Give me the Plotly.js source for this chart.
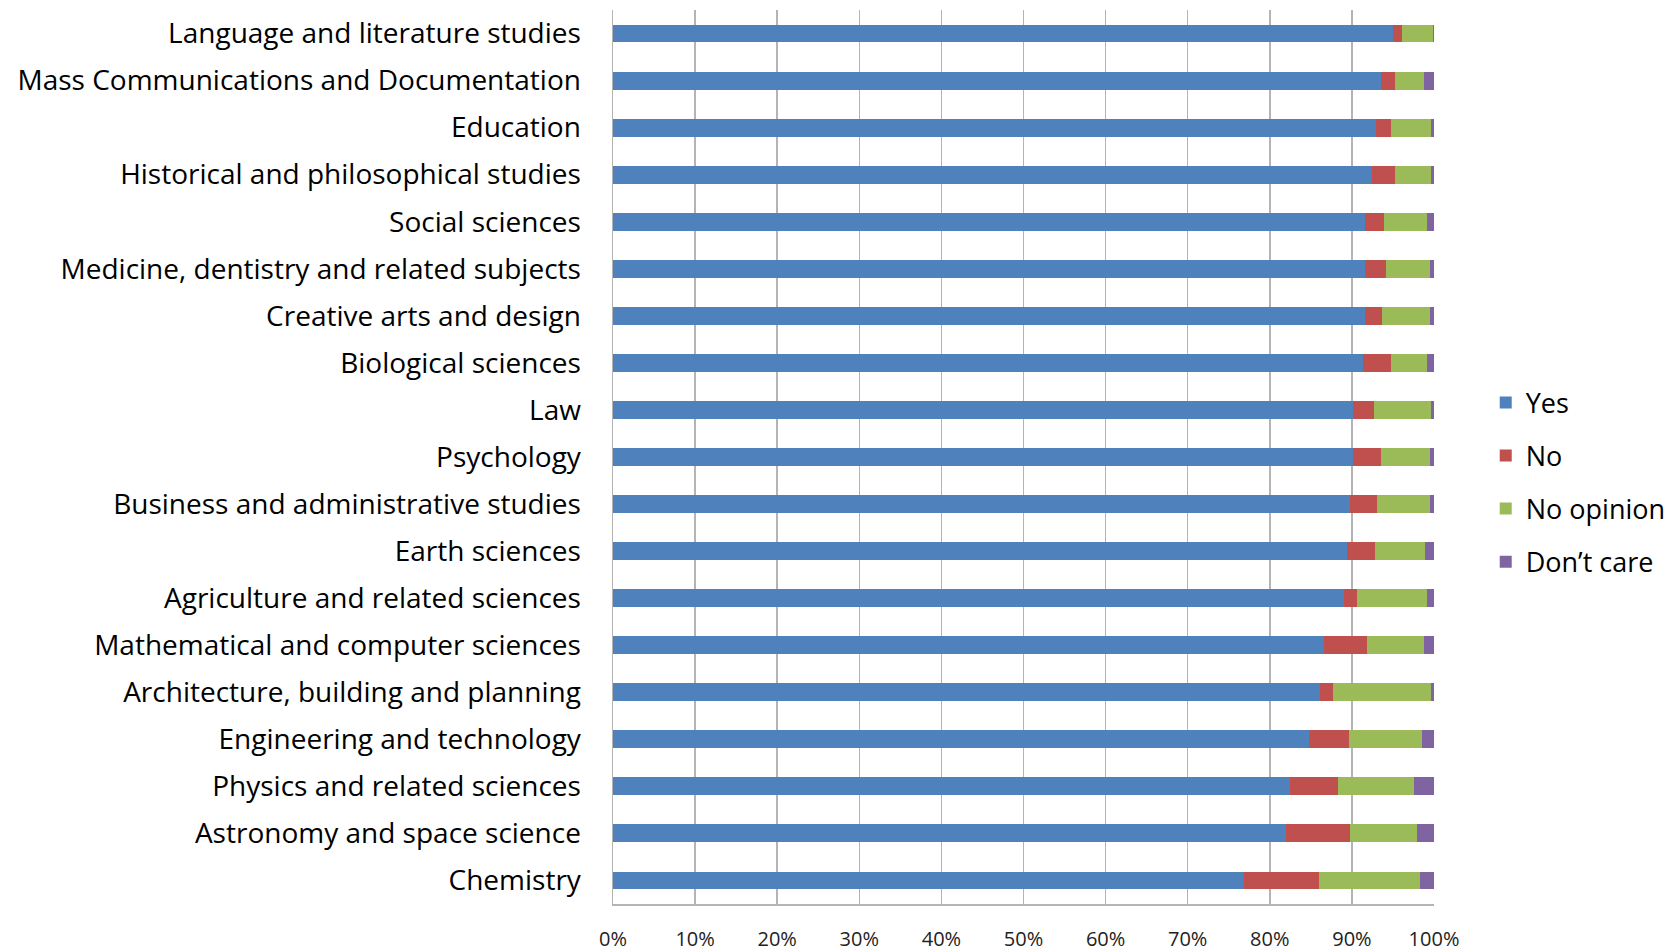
<!DOCTYPE html>
<html>
<head>
<meta charset="utf-8">
<script src="https://cdn.plot.ly/plotly-3.0.1.min.js"></script>
<style>html,body{margin:0;padding:0;background:#fff;}#chart{width:1675px;height:950px;}</style>
</head>
<body>
<div id="chart"></div>
<script>
const categories = [
  "Language and literature studies",
  "Mass Communications and Documentation",
  "Education",
  "Historical and philosophical studies",
  "Social sciences",
  "Medicine, dentistry and related subjects",
  "Creative arts and design",
  "Biological sciences",
  "Law",
  "Psychology",
  "Business and administrative studies",
  "Earth sciences",
  "Agriculture and related sciences",
  "Mathematical and computer sciences",
  "Architecture, building and planning",
  "Engineering and technology",
  "Physics and related sciences",
  "Astronomy and space science",
  "Chemistry"
];
const yes       = [95.0, 93.5, 92.9, 92.4, 91.6, 91.6, 91.6, 91.4, 90.1, 90.1, 89.8, 89.4, 89.0, 86.6, 86.1, 84.8, 82.4, 82.0, 76.8];
const no        = [1.1, 1.8, 1.9, 2.9, 2.3, 2.6, 2.1, 3.4, 2.6, 3.4, 3.3, 3.4, 1.6, 5.2, 1.6, 4.9, 5.9, 7.8, 9.2];
const noOpinion = [3.8, 3.5, 4.8, 4.3, 5.3, 5.3, 5.8, 4.3, 6.9, 6.0, 6.4, 6.1, 8.5, 7.0, 11.9, 8.8, 9.3, 8.1, 12.3];
const dontCare  = [0.1, 1.2, 0.4, 0.4, 0.8, 0.5, 0.5, 0.9, 0.4, 0.5, 0.5, 1.1, 0.9, 1.2, 0.4, 1.5, 2.4, 2.1, 1.7];
const seriesNames = ["Yes", "No", "No opinion", "Don\u2019t care"];
const seriesColors = ["#4F81BD", "#C0504D", "#9BBB59", "#8064A2"];
const xTickVals = [0,10,20,30,40,50,60,70,80,90,100];
const xTickText = ["0%","10%","20%","30%","40%","50%","60%","70%","80%","90%","100%"];

const FONT = "'Open Sans', Lato, sans-serif";
const seriesValues = [yes, no, noOpinion, dontCare];
const traces = seriesValues.map((vals, i) => ({
  type: "bar",
  orientation: "h",
  name: seriesNames[i],
  x: vals,
  y: categories,
  marker: {color: seriesColors[i], line: {width: 0}},
  legendgroup: "g" + i,
  hoverinfo: "x+y+name"
}));

const layout = {
  width: 1675,
  height: 950,
  margin: {l: 613, r: 241, t: 10, b: 46, pad: 0, autoexpand: false},
  paper_bgcolor: "#ffffff",
  plot_bgcolor: "#ffffff",
  barmode: "stack",
  bargap: 0.62,
  font: {family: FONT, color: "#000000"},
  xaxis: {
    range: [0, 100],
    tickvals: xTickVals,
    ticktext: xTickText,
    showgrid: true,
    gridcolor: "#B4B4B4",
    gridwidth: 1.5,
    zeroline: false,
    showline: true,
    linecolor: "#B4B4B4",
    linewidth: 1.5,
    ticks: "",
    ticklabelstandoff: 16,
    tickfont: {family: FONT, size: 20, color: "#222222"},
    fixedrange: true
  },
  yaxis: {
    autorange: "reversed",
    type: "category",
    showgrid: false,
    zeroline: false,
    showline: true,
    linecolor: "#B4B4B4",
    linewidth: 1.5,
    ticks: "",
    ticklabelstandoff: 25,
    tickfont: {family: FONT, size: 28, color: "#000000"},
    fixedrange: true
  },
  showlegend: true,
  legend: {
    x: 1.063,
    xanchor: "left",
    y: 0.588,
    yanchor: "top",
    traceorder: "grouped",
    tracegroupgap: 15,
    font: {family: FONT, size: 27, color: "#000000"},
    bgcolor: "rgba(0,0,0,0)",
    itemwidth: 30
  }
};

Plotly.newPlot("chart", traces, layout, {displayModeBar: false, staticPlot: true});
</script>
</body>
</html>
